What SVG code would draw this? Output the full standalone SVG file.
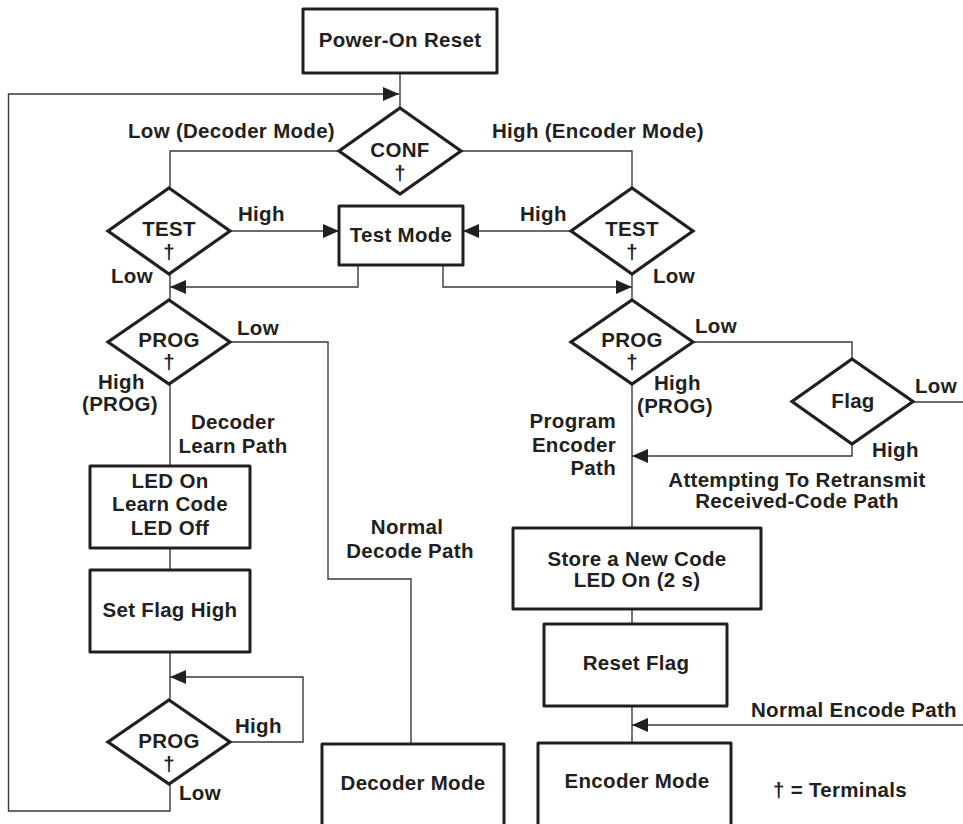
<svg xmlns="http://www.w3.org/2000/svg" width="963" height="824" viewBox="0 0 963 824">
<defs>
<marker id="arr" markerUnits="userSpaceOnUse" markerWidth="16" markerHeight="14" refX="16" refY="7" orient="auto">
<path d="M0,0 L16,7 L0,14 z" fill="#231f20"/>
</marker>
<style>
text{font-family:"Liberation Sans",Arial,sans-serif;font-weight:bold;font-size:20.5px;letter-spacing:0.3px;fill:#231f20}
.c{text-anchor:middle}
.e{text-anchor:end}
.box{fill:#fff;stroke:#231f20;stroke-width:3;stroke-linejoin:round}
.dia{fill:#fff;stroke:#231f20;stroke-width:3.2;stroke-linejoin:miter}
.ln{fill:none;stroke:#3a3a3a;stroke-width:1.4}
.ar{fill:none;stroke:#3a3a3a;stroke-width:1.4;marker-end:url(#arr)}
</style>
</defs>
<rect width="963" height="824" fill="#fff"/>
<g id="connectors">
<path class="ln" d="M400,73 V108"/>
<path class="ar" d="M170,784 V811 H8.5 V94 H399"/>
<path class="ln" d="M339,151 H170 V188"/>
<path class="ln" d="M461,151 H632 V188"/>
<path class="ar" d="M230,231 H339"/>
<path class="ar" d="M571,231 H463"/>
<path class="ar" d="M358,265 V287 H170"/>
<path class="ar" d="M443,265 V287 H632"/>
<path class="ln" d="M170,274 V300"/>
<path class="ln" d="M632,274 V300"/>
<path class="ln" d="M230,342 H328 V579 H411 V744"/>
<path class="ln" d="M170,384 V466"/>
<path class="ln" d="M170,548 V570"/>
<path class="ln" d="M170,652 V700"/>
<path class="ar" d="M230,742 H303 V677 H170"/>
<path class="ln" d="M693,342 H852 V359"/>
<path class="ln" d="M632,384 V528"/>
<path class="ln" d="M913,402 H963"/>
<path class="ar" d="M852,444 V456 H632"/>
<path class="ln" d="M632,609 V624"/>
<path class="ln" d="M632,706 V743"/>
<path class="ar" d="M963,725 H632"/>
</g>
<g id="power-on-reset">
<rect class="box" x="303" y="9" width="194" height="64"/>
<text class="c" x="400" y="47">Power-On Reset</text>
</g>
<g id="conf">
<polygon class="dia" points="400,108 461,151 400,194 339,151"/>
<text class="c" x="400" y="157">CONF</text>
<text class="c" x="400" y="180">†</text>
</g>
<g id="test-left">
<polygon class="dia" points="169,188 230,231 169,274 108,231"/>
<text class="c" x="169" y="236">TEST</text>
<text class="c" x="169" y="259">†</text>
</g>
<g id="test-right">
<polygon class="dia" points="632,188 693,231 632,274 571,231"/>
<text class="c" x="632" y="236">TEST</text>
<text class="c" x="632" y="259">†</text>
</g>
<g id="test-mode">
<rect class="box" x="339" y="206" width="124" height="59"/>
<text class="c" x="401" y="242">Test Mode</text>
</g>
<g id="prog-left">
<polygon class="dia" points="169,300 230,342 169,384 108,342"/>
<text class="c" x="169" y="347">PROG</text>
<text class="c" x="169" y="369">†</text>
</g>
<g id="prog-right">
<polygon class="dia" points="632,300 693,342 632,384 571,342"/>
<text class="c" x="632" y="347">PROG</text>
<text class="c" x="632" y="369">†</text>
</g>
<g id="flag">
<polygon class="dia" points="852,359 913,401.5 852,444 792,401.5"/>
<text class="c" x="853" y="408">Flag</text>
</g>
<g id="learn-code">
<rect class="box" x="90" y="466" width="160" height="82"/>
<text class="c" x="170" y="488">LED On</text>
<text class="c" x="170" y="511">Learn Code</text>
<text class="c" x="170" y="535">LED Off</text>
</g>
<g id="set-flag-high">
<rect class="box" x="90" y="570" width="160" height="82"/>
<text class="c" x="170" y="617">Set Flag High</text>
</g>
<g id="prog-bottom">
<polygon class="dia" points="169,700 230,742 169,784 108,742"/>
<text class="c" x="169" y="748">PROG</text>
<text class="c" x="169" y="771">†</text>
</g>
<g id="decoder-mode">
<rect class="box" x="322" y="744" width="182" height="90"/>
<text class="c" x="413" y="790">Decoder Mode</text>
</g>
<g id="store-code">
<rect class="box" x="513" y="528" width="248" height="81"/>
<text class="c" x="637" y="566">Store a New Code</text>
<text class="c" x="637" y="587">LED On (2 s)</text>
</g>
<g id="reset-flag">
<rect class="box" x="544" y="624" width="183" height="82"/>
<text class="c" x="636" y="670">Reset Flag</text>
</g>
<g id="encoder-mode">
<rect class="box" x="538" y="743" width="193" height="91"/>
<text class="c" x="637" y="788">Encoder Mode</text>
</g>
<g id="labels">
<text x="128" y="138">Low (Decoder Mode)</text>
<text x="492" y="138">High (Encoder Mode)</text>
<text x="238" y="221">High</text>
<text x="520" y="221">High</text>
<text x="111" y="283">Low</text>
<text x="653" y="283">Low</text>
<text x="237" y="335">Low</text>
<text x="695" y="333">Low</text>
<text x="98" y="389">High</text>
<text x="82" y="411">(PROG)</text>
<text x="654" y="390">High</text>
<text x="637" y="413">(PROG)</text>
<text class="c" x="233" y="429">Decoder</text>
<text class="c" x="233" y="453">Learn Path</text>
<text class="e" x="616" y="428">Program</text>
<text class="e" x="616" y="452">Encoder</text>
<text class="e" x="616" y="475">Path</text>
<text x="915" y="393">Low</text>
<text x="872" y="457">High</text>
<text class="c" x="797" y="487">Attempting To Retransmit</text>
<text class="c" x="797" y="508">Received-Code Path</text>
<text class="c" x="407" y="534">Normal</text>
<text class="c" x="410" y="558">Decode Path</text>
<text x="235" y="733">High</text>
<text x="179" y="800">Low</text>
<text x="751" y="717">Normal Encode Path</text>
<text x="773" y="797">† = Terminals</text>
</g>
</svg>
